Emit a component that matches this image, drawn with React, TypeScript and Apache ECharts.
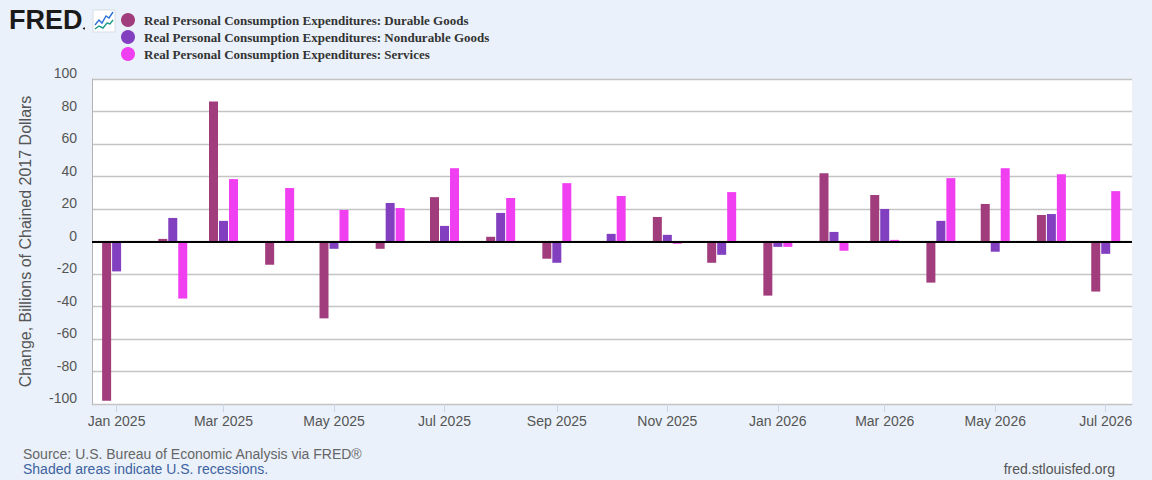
/** FRED chart: monthly change in real PCE components */
import { useEffect, useRef } from "react";
import * as echarts from "echarts";

const months = [
  "2025-01", "2025-02", "2025-03", "2025-04", "2025-05", "2025-06", "2025-07",
  "2025-08", "2025-09", "2025-10", "2025-11", "2025-12", "2026-01", "2026-02",
  "2026-03", "2026-04", "2026-05", "2026-06", "2026-07",
];

const durableGoods = [
  -98.0, 1.6, 86.1, -14.3, -47.3, -4.5, 27.3, 2.9, -10.6, 0, 15.1, -13.1, -33.3,
  42.0, 28.6, -25.3, 23.1, 16.3, -30.8,
];

const nondurableGoods = [
  -18.4, 14.5, 12.7, 0, -4.5, 23.7, 9.6, 17.6, -13.1, 4.7, 4.1, -8.2, -3.3, 5.9,
  20.0, 12.7, -6.3, 16.9, -7.6,
];

const services = [
  0, -35.1, 38.4, 32.9, 19.4, 20.6, 45.1, 26.7, 35.9, 28.0, -1.4, 30.4, -3.3,
  -5.7, 1.0, 39.0, 45.1, 41.4, 31.0,
];

const seriesNames = [
  "Real Personal Consumption Expenditures: Durable Goods",
  "Real Personal Consumption Expenditures: Nondurable Goods",
  "Real Personal Consumption Expenditures: Services",
];

const seriesColors = ["#a13d7c", "#8240c0", "#f03ff0"];

const monthLabels = ["Jan", "Feb", "Mar", "Apr", "May", "Jun", "Jul", "Aug", "Sep", "Oct", "Nov", "Dec"];

const DAY = 24 * 3600 * 1000;

// plot area
const GRID_LEFT = 92;
const GRID_RIGHT = 20;
const CHART_W = 1152;
const BAR_W = 9;
const BAR_GAP = 0.11;

/** "2025-03" -> UTC timestamp of the first of the month */
function toTime(m: string) {
  const [y, mo] = m.split("-").map(Number);
  return Date.UTC(y, mo - 1, 1);
}

export default function App() {
  const chartRef = useRef<HTMLDivElement>(null);

  useEffect(() => {
    if (!chartRef.current) return;
    document.body.style.margin = "0";

    const chart = echarts.init(chartRef.current, null, { renderer: "svg" });

    const sans = "'Liberation Sans', Arial, sans-serif";
    const values = [durableGoods, nondurableGoods, services];

    // echarts widens a time axis carrying bars by half the bar group on each side;
    // shrink the requested extent so the final one lands where we want it
    const wantMin = Date.UTC(2024, 11, 18, 10);
    const wantMax = Date.UTC(2026, 6, 15, 12);
    const axisLen = CHART_W - GRID_LEFT - GRID_RIGHT;
    const groupHalf = (seriesNames.length * BAR_W + (seriesNames.length - 1) * BAR_W * BAR_GAP) / 2;
    const perPx = (wantMax - wantMin) / axisLen;
    const xMin = wantMin + groupHalf * perPx;
    const xMax = wantMax - groupHalf * perPx;

    const option = {
      animation: false,
      useUTC: true,
      backgroundColor: "#eaf1fa",
      textStyle: { fontFamily: sans },
      legend: {
        orient: "vertical",
        left: 116,
        top: 8,
        itemWidth: 14,
        itemHeight: 14,
        itemGap: 3,
        icon: "circle",
        data: seriesNames,
        textStyle: {
          fontFamily: "'Liberation Serif', 'Times New Roman', serif",
          fontWeight: "bold",
          fontSize: 13,
          color: "#333",
          padding: [0, 0, 0, 4],
        },
      },
      grid: {
        left: GRID_LEFT,
        right: GRID_RIGHT,
        top: 79,
        bottom: 76,
        show: true,
        backgroundColor: "#ffffff",
        borderWidth: 0,
      },
      xAxis: {
        type: "time",
        min: xMin,
        max: xMax,
        splitNumber: 8,
        minInterval: 75 * DAY,
        maxInterval: 75 * DAY,
        axisLine: { onZero: false, lineStyle: { color: "#c4c4c4", width: 1 } },
        axisTick: { show: true, length: 8, lineStyle: { color: "#c8d6e8" } },
        axisLabel: {
          color: "#555",
          fontSize: 14,
          margin: 10,
          formatter: (v: number) => {
            const d = new Date(v);
            return monthLabels[d.getUTCMonth()] + " " + d.getUTCFullYear();
          },
        },
        splitLine: { show: false },
      },
      yAxis: {
        type: "value",
        min: -100,
        max: 100,
        interval: 20,
        name: "Change, Billions of Chained 2017 Dollars",
        nameLocation: "middle",
        nameGap: 59,
        nameTextStyle: { color: "#555", fontSize: 16 },
        axisLine: { show: true, lineStyle: { color: "#b4b4b4" } },
        axisTick: { show: false },
        axisLabel: {
          color: "#555",
          fontSize: 14,
          margin: 15,
          verticalAlign: "bottom",
          lineHeight: 12,
        },
        splitLine: { lineStyle: { color: "#c4c4c4", width: 1.3 } },
      },
      series: seriesNames.map((name, i) => ({
        name,
        type: "bar",
        barWidth: BAR_W,
        barGap: BAR_GAP * 100 + "%",
        itemStyle: { color: seriesColors[i] },
        data: months.map((m, j) => [toTime(m), values[i][j]]),
        markLine:
          i === seriesNames.length - 1
            ? {
                silent: true,
                symbol: ["none", "none"],
                label: { show: false },
                lineStyle: { color: "#000", width: 2, type: "solid" },
                data: [{ yAxis: 0 }],
              }
            : undefined,
      })),
      graphic: [
        {
          type: "text",
          left: 9,
          top: 6,
          style: {
            text: "FRED",
            font: "bold 27px 'Liberation Sans', Arial, sans-serif",
            fill: "#1a1a1a",
          },
        },
        {
          type: "circle",
          shape: { cx: 84, cy: 28.5, r: 1 },
          style: { fill: "#1a1a1a" },
        },
        {
          type: "rect",
          shape: { x: 93, y: 10, width: 22, height: 22 },
          style: { fill: "#ffffff", stroke: "#d8dde4", lineWidth: 1 },
        },
        {
          type: "polyline",
          shape: { points: [[95, 25], [99, 20], [102, 23], [106, 16], [109, 18], [113, 12]] },
          style: { stroke: "#2a6fd6", lineWidth: 1.4, fill: "none" },
        },
        {
          type: "polyline",
          shape: { points: [[95, 29], [99, 26], [103, 28], [107, 23], [110, 24], [113, 20]] },
          style: { stroke: "#1c9a8a", lineWidth: 1.4, fill: "none" },
        },
        {
          type: "text",
          left: 23,
          top: 447,
          style: {
            text: "Source: U.S. Bureau of Economic Analysis via FRED®",
            font: "14px 'Liberation Sans', Arial, sans-serif",
            fill: "#666",
          },
        },
        {
          type: "text",
          left: 23,
          top: 462,
          style: {
            text: "Shaded areas indicate U.S. recessions.",
            font: "14px 'Liberation Sans', Arial, sans-serif",
            fill: "#3e63a0",
          },
        },
        {
          type: "text",
          right: 37,
          top: 462,
          style: {
            text: "fred.stlouisfed.org",
            font: "14px 'Liberation Sans', Arial, sans-serif",
            fill: "#555",
          },
        },
      ],
    };

    chart.setOption(option);

    return () => {
      chart.dispose();
    };
  }, []);

  return (
    <div
      ref={chartRef}
      style={{ position: "fixed", left: 0, top: 0, width: "1152px", height: "480px" }}
    />
  );
}
